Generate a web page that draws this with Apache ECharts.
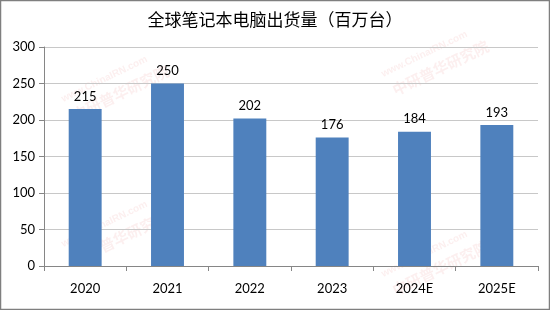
<!DOCTYPE html>
<html><head><meta charset="utf-8">
<script src="https://cdn.jsdelivr.net/npm/echarts@6/dist/echarts.min.js"></script>
<style>html,body{margin:0;padding:0;background:#fff}#c{width:550px;height:310px}</style>
</head><body><div id="c"></div>
<script>
const categories = ['2020','2021','2022','2023','2024E','2025E'];
const shipments = [215, 250, 202, 176, 184, 193];
const yTicks = [0, 50, 100, 150, 200, 250, 300];
const titleText = '全球笔记本电脑出货量（百万台）';

const chart = echarts.init(document.getElementById('c'), null, {renderer:'canvas'});
const wm = [[60,95],[60,240],[380,70],[380,270]];
const graphics = [{type:'rect',shape:{x:0.5,y:0.5,width:549,height:309},style:{fill:'none',stroke:'#7f7f7f',lineWidth:1.5},z:100}];
wm.forEach(p=>{
  graphics.push({type:'text',x:p[0],y:p[1],rotation:Math.PI/7,style:{text:'www.ChinaIRN.com',fill:'rgba(230,120,120,0.12)',font:'bold 10px "Liberation Sans"'},z:0});
  graphics.push({type:'text',x:p[0]+10,y:p[1]+14,rotation:Math.PI/7,style:{text:'中研普华研究院',fill:'rgba(230,120,120,0.12)',font:'bold 15px "Noto Sans CJK SC"'},z:0});
});
chart.setOption({
  animation:false,
  backgroundColor:'#ffffff',
  title:{text:titleText,left:'center',top:6,textStyle:{fontFamily:'"Noto Sans CJK SC"',fontSize:17,fontWeight:'normal',color:'#000'}},
  grid:{left:44,right:12,top:47,bottom:44},
  xAxis:{type:'category',data:categories,
    axisLine:{lineStyle:{color:'#868686'}},
    axisTick:{show:true,length:5,lineStyle:{color:'#868686'}},
    axisLabel:{color:'#000',fontFamily:'Lato',fontSize:13,margin:16}},
  yAxis:{type:'value',min:0,max:300,interval:50,
    axisLine:{show:true,lineStyle:{color:'#868686'}},
    axisTick:{show:true,length:5,lineStyle:{color:'#868686'}},
    splitLine:{lineStyle:{color:'#c8c8c8'}},
    axisLabel:{color:'#000',fontFamily:'Lato',fontSize:13,margin:9,
      formatter:v=>yTicks.includes(v)?String(v):''}},
  graphic:graphics,
  series:[{type:'bar',data:shipments,barWidth:'40%',z:5,
    itemStyle:{color:'#4F81BD'},
    label:{show:true,position:'top',distance:6,color:'#000',fontFamily:'Lato',fontSize:13}}]
});
</script></body></html>
